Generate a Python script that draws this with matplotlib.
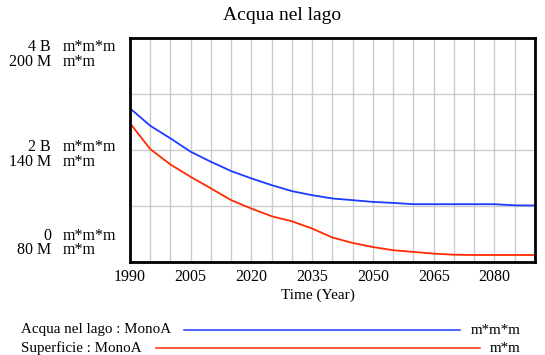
import numpy as np
import matplotlib.pyplot as plt
import matplotlib as mpl

mpl.rcParams['font.family'] = 'Liberation Serif'

years = [1990, 1995, 2000, 2005, 2010, 2015, 2020, 2025, 2030, 2035, 2040,
         2045, 2050, 2055, 2060, 2065, 2070, 2075, 2080, 2085, 2090]
# volume of water in the lake, m*m*m
acqua = [2.744e9, 2.433e9, 2.207e9, 1.968e9, 1.789e9, 1.623e9, 1.492e9,
         1.372e9, 1.265e9, 1.193e9, 1.134e9, 1.104e9, 1.073e9, 1.055e9,
         1.032e9, 1.032e9, 1.032e9, 1.032e9, 1.032e9, 1.012e9, 1.009e9]
# lake surface, m*m
superficie = [154.3e6, 140.5e6, 132.2e6, 125.6e6, 119.4e6, 113.1e6, 108.6e6,
              104.5e6, 101.8e6, 97.9e6, 93.1e6, 90.2e6, 88.0e6, 86.3e6,
              85.4e6, 84.5e6, 83.9e6, 83.75e6, 83.75e6, 83.75e6, 83.75e6]

year_ticks = [1990, 2005, 2020, 2035, 2050, 2065, 2080]
x0, x1 = 1990, 2090

W, H = 545, 355
blue = '#1a3cff'
red = '#ff2a00'

fig = plt.figure(figsize=(W / 100, H / 100), dpi=100)
ax = fig.add_axes([130 / W, 1 - 262 / H, 405 / W, 224 / H])
ax.set_xlim(x0, x1)
ax.set_ylim(0, 4e9)

# surface is drawn on the water scale: 80M..200M maps onto 0..4B
to_acqua = lambda s: (np.array(s) - 80e6) / 120e6 * 4e9

ax.plot(years, acqua, color=blue, lw=1.3)
ax.plot(years, to_acqua(superficie), color=red, lw=1.3)

for xv in np.linspace(x0, x1, 21)[1:-1]:
    ax.axvline(xv, color='#cccccc', lw=1.0, zorder=0)
for yv in [1e9, 2e9, 3e9]:
    ax.axhline(yv, color='#cccccc', lw=1.0, zorder=0)

ax.set_xticks([])
ax.set_yticks([])
for sp in ax.spines.values():
    sp.set_linewidth(2)

def px(x, y):
    return x / W, 1 - y / H

for xt in year_ticks:
    ax.text(xt, -0.065, str(xt), transform=ax.get_xaxis_transform(),
            ha='center', va='center', fontsize=11.5)

fig.text(*px(318, 295), 'Time (Year)', ha='center', va='center', fontsize=11)
fig.text(*px(282, 16), 'Acqua nel lago', ha='center', va='center', fontsize=14)

ylabels = [('4 B', '200 M', 47), ('2 B', '140 M', 147), ('0', '80 M', 236)]
for a, s, y in ylabels:
    fig.text(*px(51, y), a, ha='right', va='center', fontsize=11.5)
    fig.text(*px(63, y), 'm*m*m', ha='left', va='center', fontsize=11.5)
    fig.text(*px(51, y + 14.5), s, ha='right', va='center', fontsize=11.5)
    fig.text(*px(63, y + 14.5), 'm*m', ha='left', va='center', fontsize=11.5)

# legend rows below the chart
legend = [('Acqua nel lago : MonoA', 'm*m*m', blue, 184, 460, 330),
          ('Superficie : MonoA', 'm*m', red, 156, 480, 348)]
for name, unit, c, la, lb, y in legend:
    fig.text(*px(21, y), name, ha='left', va='center', fontsize=10.8)
    fig.text(*px(521, y), unit, ha='right', va='center', fontsize=10.8)
    fig.add_artist(mpl.lines.Line2D([la / W, lb / W], [1 - y / H, 1 - y / H],
                                    color=c, lw=1.1))

fig.savefig('out.png', dpi=100)
